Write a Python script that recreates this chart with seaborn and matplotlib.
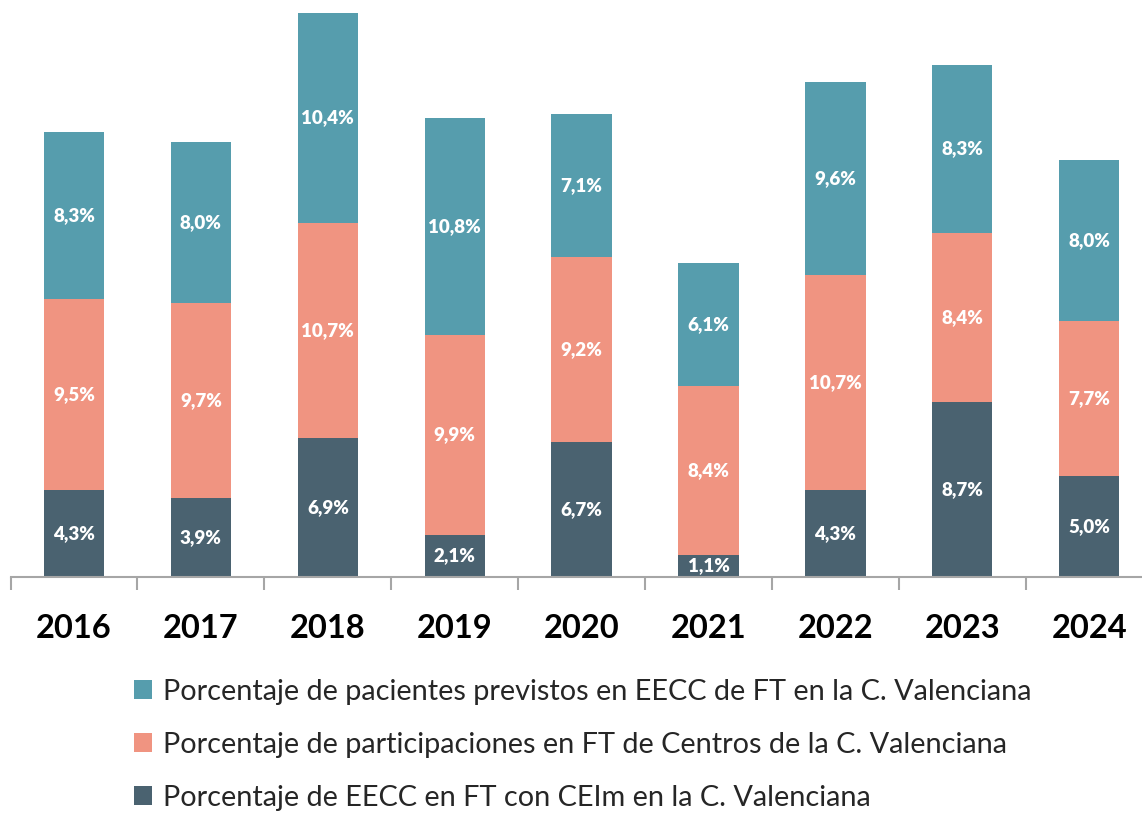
import matplotlib
matplotlib.use('Agg')
import matplotlib.pyplot as plt
from matplotlib.patches import Patch
from matplotlib.ticker import FixedLocator
import numpy as np
import pandas as pd
import seaborn as sns

# Data
years = ['2016', '2017', '2018', '2019', '2020', '2021', '2022', '2023', '2024']
eecc_ceim = [4.3, 3.9, 6.9, 2.1, 6.7, 1.1, 4.3, 8.7, 5.0]
participaciones = [9.5, 9.7, 10.7, 9.9, 9.2, 8.4, 10.7, 8.4, 7.7]
pacientes = [8.3, 8.0, 10.4, 10.8, 7.1, 6.1, 9.6, 8.3, 8.0]

series_names = [
    'Porcentaje de EECC en FT con CEIm en la C. Valenciana',
    'Porcentaje de participaciones en FT de Centros de la C. Valenciana',
    'Porcentaje de pacientes previstos en EECC de FT en la C. Valenciana',
]
colors = ['#4A6270', '#F09481', '#569DAD']

sns.set_theme(style='white')
plt.rcParams['font.family'] = ['Lato', 'DejaVu Sans']

df = pd.DataFrame({'year': years, 's0': eecc_ceim, 's1': participaciones, 's2': pacientes})

fig = plt.figure(figsize=(11.42, 8.14), dpi=100)
ax = fig.add_axes([10.6 / 1142, 1 - 577 / 814, 1.0, 577 / 814])

bottom = np.zeros(len(years))
for i, col in enumerate(['s0', 's1', 's2']):
    sns.barplot(data=df, x='year', y=col, color=colors[i], width=0.475,
                bottom=bottom, ax=ax, saturation=1, linewidth=0)
    bottom = bottom + df[col].values

for cont in ax.containers:
    vals = [p.get_height() for p in cont]
    ax.bar_label(cont, labels=[f'{v:.1f}%'.replace('.', ',') for v in vals],
                 label_type='center', color='white', fontsize=13.5, fontweight='heavy')

ax.set_xlim(-0.5, len(years) - 0.5)
ax.set_ylim(0, 28.65)
ax.set_xlabel('')
ax.set_ylabel('')
ax.set_yticks([])
for s in ['top', 'right', 'left']:
    ax.spines[s].set_visible(False)
ax.spines['bottom'].set_color('#A6A6A6')
ax.spines['bottom'].set_linewidth(1.5)

ax.tick_params(axis='x', which='major', length=0, pad=27, labelsize=23.5)
for lbl in ax.get_xticklabels():
    lbl.set_fontweight('bold')
    lbl.set_color('black')
ax.xaxis.set_minor_locator(FixedLocator(np.arange(-0.5, len(years), 1.0)))
ax.tick_params(axis='x', which='minor', bottom=True, length=9, width=1.5, color='#A6A6A6')

handles = [Patch(facecolor=colors[i], edgecolor='none') for i in [2, 1, 0]]
labels = [series_names[i] for i in [2, 1, 0]]
fig.legend(handles, labels, loc='upper left', bbox_to_anchor=(134 / 1142, 1 - 679 / 814),
           frameon=False, fontsize=20.8, handlelength=0.62, handleheight=0.62,
           handletextpad=0.4, labelspacing=0.93, borderpad=0, borderaxespad=0)

fig.savefig('out.png', dpi=100)
